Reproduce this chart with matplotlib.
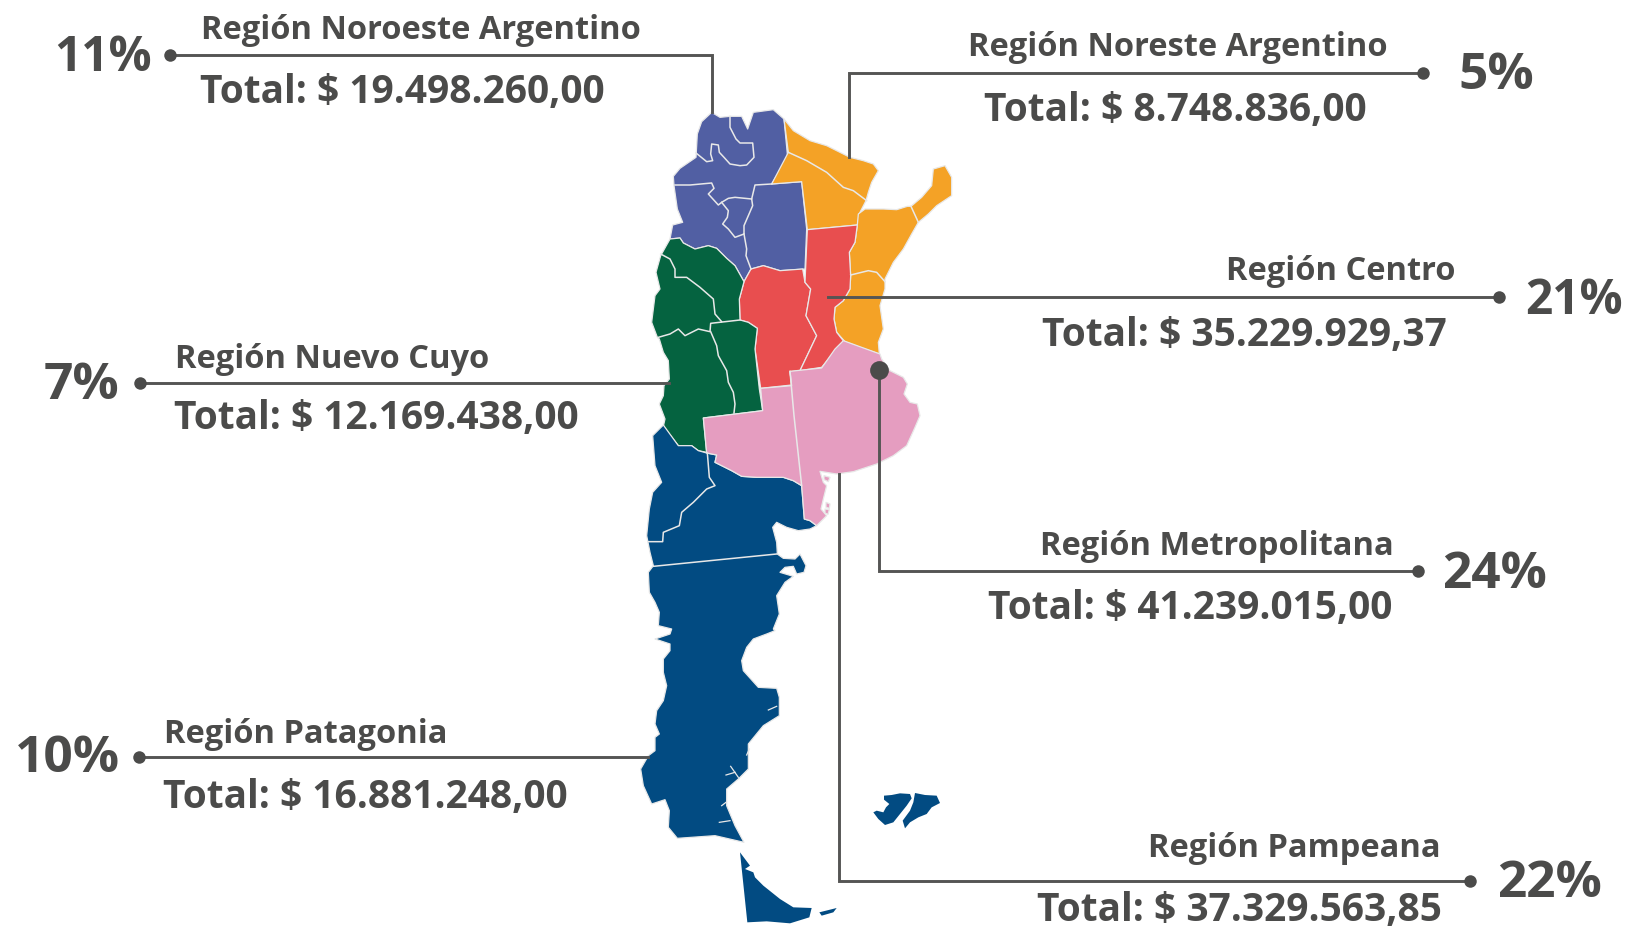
import matplotlib
matplotlib.use('Agg')
import matplotlib.pyplot as plt

plt.rcParams['font.family'] = ['Open Sans', 'DejaVu Sans']

TEXT_COL = '#4b4b4a'
LINE_COL = '#555554'
BORDER_COL = '#e8e8e8'
NOA_COL = '#515fa3'
NEA_COL = '#f4a226'
CENTRO_COL = '#e84e4f'
CUYO_COL = '#056340'
PAMPA_COL = '#e59dc0'
PATA_COL = '#024b82'

# map outlines (crop pixels, 3x, see the offsets below)
TOP = (620, 90)
MID = (620, 340)
LOW = (620, 630)
MALV = (860, 780)
FUEGO = (730, 845)

noa_top = [(275,70),(300,85),(330,82),(365,82),(383,120),(400,70),(460,62),(492,90),(503,205),(455,285),
           (545,278),(560,420),(555,540),(480,545),(430,530),(393,540),(372,578),(345,530),(320,508),(290,478),
           (265,470),(225,480),(190,462),(180,447),(150,450),(158,408),(188,400),(172,360),(162,290),(160,262),
           (180,238),(228,205),(232,135),(245,98)]
noa_borders = [
    [(330,82),(330,115),(348,150),(360,162),(398,162),(402,205),(380,228),(360,230),(330,225),(312,205),
     (298,190),(295,168),(275,165),(272,195),(278,215),(260,218),(228,192)],
    [(165,288),(210,288),(275,282),(282,298),(265,315),(295,348),(305,340),(325,328),(345,325),(395,330),(405,288),(455,285)],
    [(305,340),(325,365),(322,385),(308,405),(325,420),(345,445),(372,435),(372,410),(385,380),(398,350),(395,330)],
    [(372,435),(380,480),(378,500),(393,540)],
]

nea_north = [(492,90),(520,125),(570,155),(620,170),(650,185),(690,205),(730,215),(760,225),(775,245),(755,280),
             (745,310),(738,335),(720,370),(712,408),(562,422),(545,278),(455,285),(505,190)]
nea_east = [(715,375),(735,360),(790,360),(830,362),(862,352),(873,352),(905,325),(935,290),(940,240),(975,230),
            (995,265),(995,320),(950,350),(925,375),(895,400),(875,435),(850,480),(820,520),(795,570),(795,600),
            (780,650),(790,720),(775,760),(778,795),(720,775),(675,758),(650,730),(642,690),(645,655),(670,635),
            (690,600),(692,560),(688,490),(705,460),(712,408)]
nea_borders = [
    [(505,190),(560,215),(620,250),(670,295),(700,305),(740,335)],
    [(692,558),(745,545),(770,550),(795,578)],
    [(873,352),(895,400)],
]

cordoba = [(393,540),(430,530),(480,545),(548,540),(555,580),(572,600),(558,680),(590,740),(540,845),(510,848),
           (515,888),(422,898),(405,780),(412,718),(385,700),(360,693),(358,630),(372,578)]
santa_fe = [(562,422),(712,408),(705,460),(688,490),(692,560),(690,600),(670,635),(645,655),(642,690),(650,730),
            (672,758),(650,780),(605,835),(540,845),(590,740),(558,680),(572,600),(555,580)]

cuyo_top = [(150,450),(180,447),(190,462),(225,480),(265,470),(290,478),(320,508),(345,530),(372,578),(358,630),
            (360,693),(385,700),(412,718),(405,780),(418,900),(428,965),(250,987),(260,1090),(235,1085),(215,1070),
            (175,1070),(130,1012),(135,990),(118,945),(130,920),(132,890),(148,870),(145,815),(130,790),(118,750),
            (112,745),(95,700),(100,660),(105,620),(120,600),(108,550),(122,500)]
cuyo_borders = [
    [(122,495),(150,510),(165,540),(165,565),(200,565),(240,595),(280,630),(285,675),(305,698)],
    [(115,745),(150,735),(175,720),(195,740),(235,720),(270,728),(272,703),(360,693)],
    [(272,728),(290,770),(295,800),(320,845),(325,880),(340,910),(345,945),(342,972)],
]

pampa_mid = [(670,5),(780,45),(785,60),(810,95),(850,115),(862,135),(852,165),(870,190),(892,195),(900,230),
             (885,265),(860,320),(820,350),(770,375),(700,398),(650,405),(600,397),(610,430),(620,440),(610,480),
             (603,510),(620,530),(590,560),(570,545),(553,540),(545,440),(520,425),(490,415),(440,415),(410,415),
             (365,412),(335,395),(305,380),(285,370),(290,348),(260,342),(250,237),(428,215),(422,148),(515,140),
             (510,97),(605,87),(645,30)]
pampa_border = [(510,97),(522,230),(545,440)]
pampa_isles = [
    [(612,410),(630,415),(625,428),(612,422)],
    [(618,490),(630,495),(628,508),(618,505)],
    [(615,510),(628,512),(624,526),(615,522)],
]

pata_mid = [(130,258),(175,320),(215,320),(235,335),(260,342),(290,348),(285,370),(305,380),(335,395),(365,412),
            (410,415),(440,415),(490,415),(520,425),(545,440),(553,540),(570,545),(590,560),(570,570),(535,575),
            (500,565),(470,550),(458,565),(470,610),(472,645),(490,658),(525,660),(540,645),(558,680),(552,700),
            (530,705),(520,682),(495,685),(480,700),(520,712),(495,730),(470,770),(478,825),(460,870)]
pata_low = [(465,5),(440,15),(400,30),(380,55),(365,95),(370,125),(415,175),(470,178),(478,205),(478,260),
            (430,290),(385,345),(385,420),(355,450),(320,480),(320,530),(345,590),(372,640),(285,620),(172,628),
            (145,595),(148,545),(135,512),(95,525),(70,470),(62,420),(85,380),(105,365),(105,325),(118,315),
            (105,285),(110,245),(130,215),(140,170),(130,130),(130,90),(150,65),(150,45),(105,30),(150,15),(155,0)]
pata_west = [(155,870),(115,860),(118,820),(105,790),(88,760),(85,700),(100,680),(90,640),(80,590),(88,510),
             (98,460),(125,430),(105,380),(98,290)]
pata_borders_mid = [
    [(262,342),(268,415),(285,440),(260,450),(220,490),(185,520),(178,560),(130,580),(128,608),(85,608)],
    [(100,682),(470,645)],
]
pata_rivers_low = [
    [(445,243),(470,232)],
    [(318,438),(345,430)],
    [(332,412),(355,445)],
    [(305,530),(318,520)],
    [(298,580),(330,575)],
    [(380,378),(388,360)],
]
tierra_fuego = [(30,25),(60,65),(45,75),(70,85),(75,100),(100,125),(150,165),(190,190),(245,192),(238,220),
                (180,238),(110,232),(52,235)]
isla_estados = [(268,205),(320,192),(310,205),(275,215)]
malvinas_w = [(72,50),(95,48),(120,43),(150,45),(155,58),(140,80),(120,105),(100,130),(75,138),(55,120),(40,100),
              (50,95),(70,100),(78,85),(88,75),(72,62)]
malvinas_e = [(165,42),(195,48),(230,50),(240,72),(215,85),(200,105),(175,115),(150,130),(135,148),(128,125),
              (150,95),(160,70)]

# leader lines in figure pixels, the last point carries the small dot
leader_noa = [(712,113),(712,56),(170,56)]
leader_nea = [(849,158),(849,74),(1423,74)]
leader_centro = [(828,298),(1499,298)]
leader_cuyo = [(669,384),(140,384)]
leader_metro = [(879,371),(879,572),(1418,572)]
leader_pampa = [(839,475),(839,882),(1470,882)]
leader_pata = [(648,758),(139,758)]
leaders = [leader_noa, leader_nea, leader_centro, leader_cuyo, leader_metro, leader_pampa, leader_pata]

regions = ['Región Noroeste Argentino', 'Región Noreste Argentino', 'Región Centro', 'Región Nuevo Cuyo',
           'Región Metropolitana', 'Región Pampeana', 'Región Patagonia']
totals = ['Total: $ 19.498.260,00', 'Total: $ 8.748.836,00', 'Total: $ 35.229.929,37', 'Total: $ 12.169.438,00',
          'Total: $ 41.239.015,00', 'Total: $ 37.329.563,85', 'Total: $ 16.881.248,00']
percents = ['11%', '5%', '21%', '7%', '24%', '22%', '10%']
region_xy = [(201,39),(968,56),(1226,280),(175,368),(1040,555),(1148,857),(164,743)]
total_xy = [(200,103),(984,121),(1042,346),(174,429),(988,619),(1037,921),(163,808)]
percent_xy = [(54,71),(1458,89),(1525,314),(44,399),(1442,588),(1497,897),(15,772)]


def crop(pts, off):
    return [(off[0] + x / 3, off[1] + y / 3) for x, y in pts]


def draw_poly(ax, pts, col):
    xs, ys = zip(*pts)
    ax.fill(xs, ys, facecolor=col, edgecolor=BORDER_COL, linewidth=0.9, joinstyle='round', zorder=2)


def draw_border(ax, pts, lw=1.1):
    xs, ys = zip(*pts)
    ax.plot(xs, ys, color=BORDER_COL, linewidth=lw, zorder=3, solid_joinstyle='round')


fig = plt.figure(figsize=(16.32, 9.28), dpi=100)
ax = fig.add_axes([0, 0, 1, 1])
ax.set_xlim(0, 1632)
ax.set_ylim(928, 0)
ax.axis('off')

draw_poly(ax, crop(noa_top, TOP), NOA_COL)
draw_poly(ax, crop(nea_north, TOP), NEA_COL)
draw_poly(ax, crop(nea_east, TOP), NEA_COL)
draw_poly(ax, crop(cordoba, TOP), CENTRO_COL)
draw_poly(ax, crop(santa_fe, TOP), CENTRO_COL)
draw_poly(ax, crop(cuyo_top, TOP), CUYO_COL)
draw_poly(ax, crop(pata_mid, MID) + crop(pata_low, LOW) + crop(pata_west, MID), PATA_COL)
draw_poly(ax, crop(pampa_mid, MID), PAMPA_COL)
for isle in pampa_isles:
    draw_poly(ax, crop(isle, MID), PAMPA_COL)
for isle, off in [(tierra_fuego, FUEGO), (isla_estados, FUEGO), (malvinas_w, MALV), (malvinas_e, MALV)]:
    xs, ys = zip(*crop(isle, off))
    ax.fill(xs, ys, color=PATA_COL, linewidth=0, zorder=2)

for b in noa_borders + nea_borders + cuyo_borders:
    draw_border(ax, crop(b, TOP))
for b in pata_borders_mid + [pampa_border]:
    draw_border(ax, crop(b, MID))
for b in pata_rivers_low:
    draw_border(ax, crop(b, LOW), lw=0.9)

for pts in leaders:
    xs, ys = zip(*pts)
    ax.plot(xs, ys, color=LINE_COL, linewidth=2.1, zorder=4, solid_joinstyle='miter')
    ax.plot(xs[-1], ys[-1], 'o', color=TEXT_COL, markersize=9, markeredgewidth=0, zorder=5)
# big dot where the metropolitan line starts
ax.plot(leader_metro[0][0], leader_metro[0][1], 'o', color=TEXT_COL, markersize=13.5, markeredgewidth=0, zorder=5)

for i in range(len(regions)):
    ax.text(region_xy[i][0], region_xy[i][1], regions[i], fontsize=23.5, fontweight='bold', color=TEXT_COL, va='baseline')
    ax.text(total_xy[i][0], total_xy[i][1], totals[i], fontsize=28, fontweight='bold', color=TEXT_COL, va='baseline')
    # the 1s run wide in this font, so those two get a smaller size
    size = 34.5 if percents[i] in ('11%', '21%') else 37
    ax.text(percent_xy[i][0], percent_xy[i][1], percents[i], fontsize=size, fontweight='bold', color=TEXT_COL, va='baseline')

fig.savefig('out.png', dpi=100)
